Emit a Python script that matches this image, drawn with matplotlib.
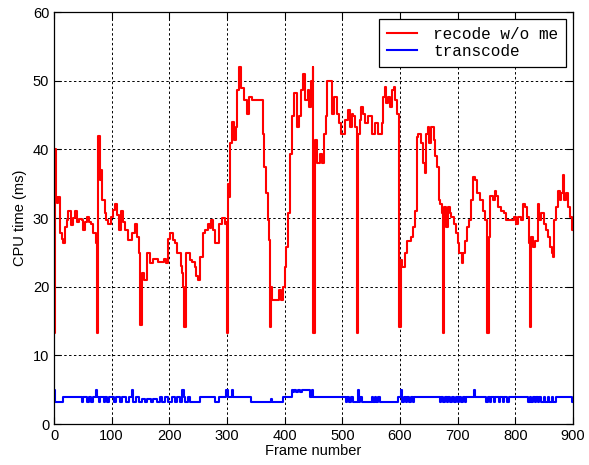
import numpy as np
import matplotlib.pyplot as plt

# recode w/o me : (frame, CPU time in ms)
rec_frame = [0, 1, 3, 5, 7, 10, 13, 15, 19, 23, 25, 30, 33, 36, 40, 44, 48, 51, 54, 57,
             61, 65, 68, 72, 74, 75, 77, 80, 81, 84, 88, 91, 94, 98, 102, 106, 109, 112, 117, 120,
             123, 129, 135, 140, 144, 147, 149, 150, 152, 156, 161, 166, 172, 180, 190, 194, 197, 202, 206, 210,
             214, 220, 222, 224, 225, 229, 236, 240, 244, 247, 250, 254, 258, 262, 267, 270, 273, 276, 279, 284,
             287, 291, 297, 299, 300, 302, 304, 306, 309, 313, 315, 318, 321, 325, 329, 335, 339, 343, 358, 362,
             365, 368, 371, 373, 375, 377, 378, 387, 390, 394, 397, 400, 403, 405, 409, 413, 417, 421, 425, 429,
             432, 436, 440, 443, 446, 449, 450, 453, 456, 461, 464, 468, 471, 473, 479, 482, 486, 490, 495, 498,
             502, 505, 510, 513, 516, 519, 522, 525, 526, 528, 530, 533, 536, 539, 545, 551, 556, 562, 568, 571,
             574, 576, 579, 583, 586, 589, 592, 595, 598, 599, 601, 604, 608, 613, 620, 622, 626, 629, 632, 637,
             640, 643, 645, 648, 651, 654, 659, 661, 664, 667, 670, 673, 675, 677, 680, 683, 686, 689, 693, 697,
             700, 703, 707, 710, 713, 717, 720, 723, 727, 731, 734, 738, 744, 748, 751, 754, 756, 761, 764, 767,
             770, 775, 781, 784, 793, 798, 801, 804, 810, 813, 817, 820, 823, 825, 828, 831, 835, 839, 842, 845,
             849, 853, 857, 860, 863, 865, 868, 871, 874, 877, 880, 883, 885, 888, 891, 895, 898, 900]
rec_time = [13.3, 40, 33, 32.2, 33, 27.8, 27, 26.3, 28.7, 29.7, 31, 29, 30, 31, 29.5, 29.8, 29.7, 28.3, 29.5, 30.2,
            29.5, 29.2, 27.8, 26.3, 26, 13.3, 42, 35.5, 37, 32.6, 30.7, 29.7, 29.2, 30.2, 31.2, 32, 30.5, 28.3, 31, 29.5,
            28.3, 26.8, 27.8, 29.2, 27.3, 24.9, 20, 14.4, 22, 21, 24.9, 23.4, 24.1, 23.6, 24.1, 23.4, 27, 27.8, 26.8, 26.3,
            24.9, 23, 22, 20, 14.2, 24.9, 23.9, 23.6, 22.9, 21.5, 21, 24.4, 27.8, 28.3, 29.2, 28.5, 29.7, 28.3, 26.3, 26.3,
            29.2, 30, 29.2, 29.5, 13.2, 35, 33, 40.9, 44, 41.4, 43.3, 48.6, 52, 49, 47.2, 45.2, 47.7, 47.2, 47.2, 42.3,
            37.5, 33.6, 29.7, 26.8, 14.2, 20, 18, 18, 19.5, 18, 20, 22.9, 25.8, 30.7, 39.4, 44.8, 48.2, 43.3, 44.8, 48.6,
            51, 47.2, 48.6, 46.2, 50, 52, 13.2, 41.4, 38, 39.4, 38, 42.3, 44.8, 50, 50, 45.2, 47.7, 45.2, 43.8, 42.3,
            42.3, 44.3, 45.7, 43.3, 45.2, 44.8, 43.3, 40.4, 13.2, 42.3, 44.3, 46.2, 45.2, 43.8, 44.8, 42.3, 43.8, 42.3, 43.8, 47.7,
            49.1, 46.7, 47.7, 46.2, 48.6, 49.1, 47.2, 45.2, 44.3, 14.2, 23.9, 22.9, 24.9, 26.7, 27.2, 28.7, 31, 41.8, 42.3, 40.9,
            38, 36.5, 42.3, 43.3, 40.9, 43.3, 41.4, 39, 37.5, 32.6, 32.1, 30.7, 13.2, 31.6, 28.7, 31.6, 30.7, 30.2, 29.2, 27.8,
            26.3, 24.9, 23.4, 24.9, 26.7, 28.7, 29.7, 32.6, 36, 35.5, 33.6, 32.6, 31.1, 29.7, 13.2, 27.2, 33.2, 32.6, 34, 33.2,
            31.6, 31, 30.7, 29.7, 29.7, 30.2, 29.2, 30.2, 29.7, 32, 31.6, 30.2, 26.3, 14.2, 27.2, 25.8, 26.7, 32.1, 29.7, 30.7,
            29.2, 28.3, 27.2, 25.8, 24.9, 24.3, 29.7, 31.6, 34, 32.6, 33.6, 36.3, 32.6, 33.6, 31.6, 30.2, 28.3, 29.7]

# transcode : step levels (frame where the level starts, CPU time in ms)
tr_frame = [0, 1, 16, 49, 51, 58, 60, 64, 67, 72, 74, 78, 80, 86, 88, 92, 95, 104, 108, 115,
            118, 124, 130, 135, 137, 142, 148, 152, 158, 162, 168, 172, 178, 183, 187, 192, 198, 204, 210, 214,
            218, 222, 225, 228, 232, 236, 241, 253, 279, 287, 299, 301, 308, 310, 342, 376, 378, 397, 412, 414,
            417, 420, 424, 427, 430, 444, 448, 450, 506, 508, 512, 515, 519, 527, 529, 531, 534, 548, 551, 553,
            556, 559, 562, 565, 597, 602, 604, 607, 610, 612, 616, 619, 622, 624, 628, 669, 672, 675, 678, 681,
            684, 687, 690, 693, 697, 700, 703, 706, 709, 712, 715, 728, 730, 750, 752, 756, 758, 763, 765, 771,
            773, 779, 781, 786, 790, 822, 825, 827, 831, 834, 836, 839, 842, 845, 849, 852, 856, 859, 863, 866,
            870, 898, 900]
tr_time = [5.0, 3.2, 4.0, 3.2, 4.0, 3.2, 4.0, 3.2, 4.0, 5.0, 4.0, 3.2, 4.0, 3.2, 4.0, 3.2, 4.0, 3.2, 4.0, 3.2,
           4.0, 3.2, 4.0, 5.0, 3.2, 4.0, 3.2, 3.6, 3.2, 3.6, 3.2, 3.6, 3.2, 4.0, 3.2, 4.0, 3.2, 4.0, 3.2, 4.0,
           3.2, 5.0, 4.0, 3.2, 4.0, 3.2, 3.2, 4.0, 3.2, 4.0, 5.0, 4.0, 5.0, 4.0, 3.2, 3.7, 3.2, 4.0, 5.0, 4.6,
           5.0, 4.6, 5.0, 4.6, 5.0, 4.0, 5.0, 4.0, 3.2, 4.0, 3.2, 4.0, 3.2, 5.0, 3.2, 4.0, 3.2, 3.2, 4.0, 3.2,
           4.0, 3.2, 4.0, 3.2, 4.0, 5.0, 3.2, 4.0, 3.2, 4.0, 3.2, 4.0, 3.2, 4.0, 4.0, 3.2, 4.0, 3.2, 4.0, 3.2,
           4.0, 3.2, 4.0, 3.2, 4.0, 3.2, 4.0, 3.2, 4.0, 3.2, 4.0, 5.0, 4.0, 3.2, 4.0, 3.2, 4.0, 3.2, 4.0, 3.2,
           4.0, 3.2, 4.0, 3.2, 4.0, 3.2, 4.0, 3.2, 4.0, 3.2, 4.0, 3.2, 4.0, 3.2, 4.0, 3.2, 4.0, 3.2, 4.0, 3.2,
           4.0, 3.2, 3.2]

x_ticks = [0, 100, 200, 300, 400, 500, 600, 700, 800, 900]
y_ticks = [0, 10, 20, 30, 40, 50, 60]

plt.rcParams['font.family'] = ['Liberation Sans', 'DejaVu Sans']

fig = plt.figure(figsize=(5.89, 4.65), dpi=100)
ax = fig.add_axes([0.0917, 0.088, 0.881, 0.886])

ax.plot(rec_frame, rec_time, color='red', lw=1.5, drawstyle='steps-post', label='recode w/o me')
ax.plot(tr_frame, tr_time, color='blue', lw=1.5, drawstyle='steps-post', label='transcode')

ax.set_xlim(0, 900)
ax.set_ylim(0, 60)
ax.set_xticks(x_ticks)
ax.set_yticks(y_ticks)
ax.grid(True, color='black', linestyle=(0, (2.5, 2.5)), linewidth=0.7)
ax.tick_params(direction='in', top=True, right=True, length=5, labelsize=10.5)
for s in ax.spines.values():
    s.set_linewidth(0.9)

ax.set_xlabel('Frame number', fontsize=10.5, labelpad=1)
ax.set_ylabel('CPU time (ms)', fontsize=10.5, labelpad=4)

leg = ax.legend(loc='upper right', prop={'family': 'Liberation Mono', 'size': 11.6},
                fancybox=False, framealpha=1, edgecolor='black', handlelength=1.9,
                handletextpad=1.0, borderaxespad=0.4, borderpad=0.5, labelspacing=0.12)
leg.get_frame().set_linewidth(0.9)

plt.savefig('out.png', dpi=100)
